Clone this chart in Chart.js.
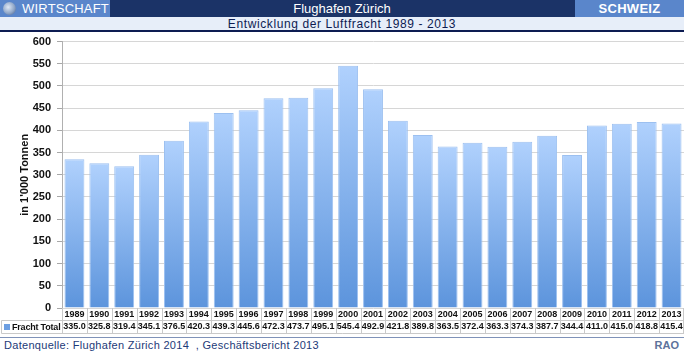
<!DOCTYPE html>
<html>
<head>
<meta charset="utf-8">
<script src="https://cdn.jsdelivr.net/npm/chart.js@4.4.1/dist/chart.umd.min.js"></script>
<style>
    body { margin: 0; width: 684px; height: 352px; background: #fff; position: relative; overflow: hidden; font-family: 'Liberation Sans', Arial, sans-serif; }
    #top { position: absolute; left: 0; top: 0; width: 684px; height: 17px; background: #1b3367; color: #fff; font-size: 13px; }
    #top .tag { position: absolute; top: 0; height: 17px; line-height: 17px; background: #5a86cb; }
    #top .left { left: 0; width: 110px; }
    #top .left span { position: absolute; left: 22px; letter-spacing: 0.2px; }
    #top .globe { position: absolute; left: 3px; top: 2px; width: 13px; height: 13px; border-radius: 50%;
        background: radial-gradient(circle at 40% 40%, #dfe8f5 0%, #8fa6c8 55%, #3e5683 100%); }
    #top .right { left: 575px; width: 109px; text-align: center; font-weight: bold; letter-spacing: 0.3px; }
    #top .mid { position: absolute; left: 0; width: 684px; text-align: center; line-height: 17px; }
    #sub { position: absolute; left: 0; top: 17px; width: 684px; height: 13px; line-height: 14px; background: #e7eef9;
        border-bottom: 2px solid #0d1c52; text-align: center; font-size: 12px; color: #0d1c52; letter-spacing: 0.6px; }
    #chartBox { position: absolute; left: 0; top: 29px; width: 684px; height: 307px; }
    #legendCell { position: absolute; left: 2px; top: 321px; width: 60px; height: 12px; line-height: 12px; white-space: nowrap;
        font-size: 9px; font-weight: bold; color: #111; letter-spacing: -0.2px; }
    #legendCell i { display: inline-block; width: 6px; height: 6px; background: #6d9fe2; margin: 0 2px 0 2px; vertical-align: 0px; }
    #footLine { position: absolute; left: 0; top: 337px; width: 684px; height: 1px; background: #7f92b8; }
    #source { position: absolute; left: 4px; top: 339px; font-size: 11px; color: #1d3a78; letter-spacing: 0.3px; }
    #rao { position: absolute; right: 5px; top: 339px; font-size: 11px; font-weight: bold; color: #5d729b; }
</style>
</head>
<body>
<div id="top">
    <div class="tag left"><div class="globe"></div><span>WIRTSCHAFT</span></div>
    <div class="mid">Flughafen Zürich</div>
    <div class="tag right">SCHWEIZ</div>
</div>
<div id="sub">Entwicklung der Luftfracht 1989 - 2013</div>
<div id="chartBox"><canvas id="frachtChart"></canvas></div>
<div id="legendCell"><i></i>Fracht Total</div>
<div id="footLine"></div>
<div id="source">Datenquelle: Flughafen Zürich 2014&nbsp;&nbsp;, Geschäftsbericht 2013</div>
<div id="rao">RAO</div>

<script>
// Data (1'000 Tonnen)
const years = ['1989', '1990', '1991', '1992', '1993', '1994', '1995', '1996', '1997', '1998', '1999', '2000', '2001',
    '2002', '2003', '2004', '2005', '2006', '2007', '2008', '2009', '2010', '2011', '2012', '2013'];
const frachtTotal = [335.0, 325.8, 319.4, 345.1, 376.5, 420.3, 439.3, 445.6, 472.3, 473.7, 495.1, 545.4, 492.9,
    421.8, 389.8, 363.5, 372.4, 363.3, 374.3, 387.7, 344.4, 411.0, 415.0, 418.8, 415.4];
const yTicks = [0, 50, 100, 150, 200, 250, 300, 350, 400, 450, 500, 550, 600];

const baseFont = "'Liberation Sans', Arial, sans-serif";

// per-bar gradient, light at the top, darker at the base
function barGradient(context) {
    const chart = context.chart;
    const y = chart.scales.y;
    if (!chart.chartArea || !y || context.parsed === undefined) return '#8ab6f0';
    const top = y.getPixelForValue(context.parsed.y);
    const bottom = y.getPixelForValue(0);
    const g = chart.ctx.createLinearGradient(0, top, 0, bottom);
    g.addColorStop(0, '#b0d1fd');
    g.addColorStop(1, '#5c94dc');
    return g;
}

// table grid under the plot
const tableLines = {
    id: 'tableLines',
    afterDraw(chart) {
        const { ctx, chartArea } = chart;
        const x = chart.scales.x;
        const n = years.length;
        const catW = (chartArea.right - chartArea.left) / n;
        const y0 = chartArea.bottom;
        const yMid = Math.round(y0 + 12) + 0.5;
        const yEnd = Math.round(y0 + 25) + 0.5;
        ctx.save();
        ctx.strokeStyle = '#c9c9c9';
        ctx.lineWidth = 1;
        ctx.beginPath();
        for (let i = 0; i <= n; i++) {
            const px = Math.min(Math.round(x.getPixelForValue(i) - catW / 2) + 0.5, chartArea.right - 0.5);
            ctx.moveTo(px, y0);
            ctx.lineTo(px, yEnd);
        }
        ctx.moveTo(1.5, yMid);
        ctx.lineTo(chartArea.right, yMid);
        ctx.moveTo(1.5, yEnd);
        ctx.lineTo(chartArea.right, yEnd);
        ctx.moveTo(1.5, yMid);
        ctx.lineTo(1.5, yEnd);
        ctx.stroke();
        ctx.restore();
    }
};

const frachtCtx = document.getElementById('frachtChart').getContext('2d');
const frachtChart = new Chart(frachtCtx, {
    type: 'bar',
    data: {
        labels: years,
        datasets: [
            {
                label: 'Fracht Total',
                data: frachtTotal,
                backgroundColor: barGradient,
                borderColor: '#9cc0f0',
                borderWidth: 1,
                barPercentage: 0.8,
                categoryPercentage: 1.0
            }
        ]
    },
    options: {
        responsive: true,
        maintainAspectRatio: false,
        animation: { duration: 0 },
        layout: { padding: { top: 4, right: 0, bottom: 3, left: 0 } },
        plugins: {
            legend: { display: false },
            tooltip: { enabled: false }
        },
        scales: {
            x: {
                grid: { display: false, drawTicks: false },
                border: { display: false },
                ticks: {
                    color: '#111',
                    font: { family: baseFont, size: 9, weight: 'bold', lineHeight: '12px' },
                    padding: 1,
                    maxRotation: 0,
                    autoSkip: false,
                    callback: (value, index) => [years[index], frachtTotal[index].toFixed(1)]
                },
                afterFit: s => { s.height = 25; }
            },
            y: {
                min: 0,
                max: 600,
                afterBuildTicks: s => { s.ticks = yTicks.map(v => ({ value: v })); },
                grid: { color: '#d6d6d6', tickLength: 5, tickColor: '#a8a8a8' },
                border: { color: '#b0b0b0' },
                ticks: {
                    color: '#111',
                    font: { family: baseFont, size: 11, weight: 'bold' },
                    padding: 6
                },
                title: {
                    display: true,
                    text: "in 1'000 Tonnen",
                    color: '#111',
                    font: { family: baseFont, size: 11, weight: 'bold', lineHeight: 1.2 },
                    padding: { top: 18, bottom: 0 }
                },
                afterFit: s => { s.width = 62; }
            }
        }
    },
    plugins: [tableLines]
});
</script>
</body>
</html>
